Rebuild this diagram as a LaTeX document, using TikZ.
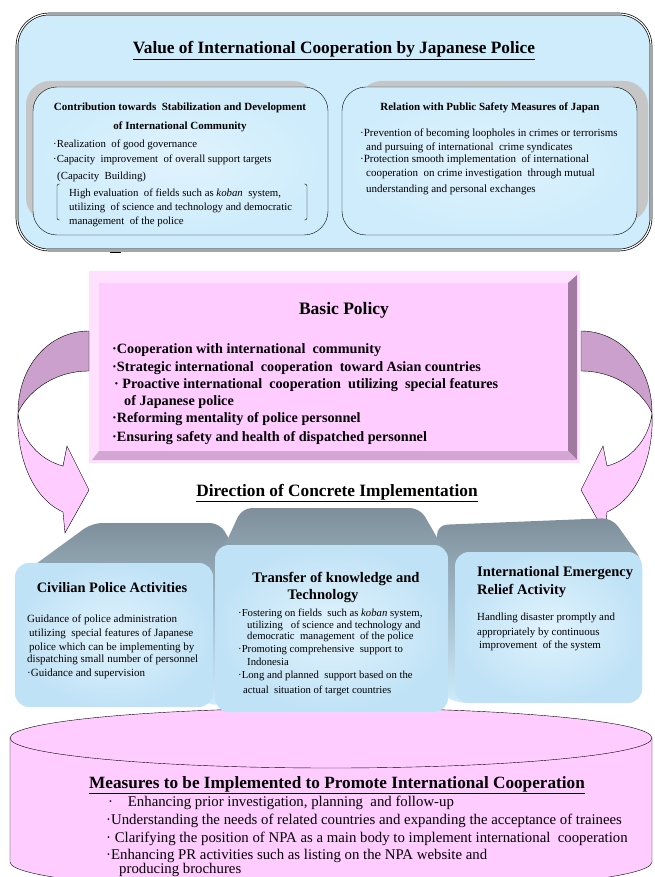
\documentclass[tikz,border=0pt]{standalone}
\usepackage{fontspec}
\setmainfont{Liberation Serif}
\usetikzlibrary{positioning,calc}

\definecolor{skyfill}{RGB}{206,236,252}
\definecolor{skyin}{RGB}{224,243,253}
\definecolor{skyout}{RGB}{192,226,246}
\definecolor{slate}{RGB}{126,143,155}
\definecolor{pinkfill}{RGB}{255,204,255}
\definecolor{pinklite}{RGB}{255,224,255}
\definecolor{pinkdark}{RGB}{204,160,204}
\definecolor{pinkedge}{RGB}{160,122,160}
\definecolor{pinkbase}{RGB}{212,166,212}

\begin{document}
\begin{tikzpicture}[x=1pt,y=-1pt,
	hd/.style={anchor=base,inner sep=0pt,font=\bfseries\fontsize{11}{13}\selectfont},
	txt/.style={anchor=base west,inner sep=0pt,font=\fontsize{10.8}{13}\selectfont},
	face/.style={rounded corners=14pt,inner color=skyin,outer color=skyout},
	body/.style={rounded corners=10pt,top color=slate,bottom color=skyfill},
	panel/.style={draw,rounded corners=24pt,inner color=skyin,outer color=skyfill}]
	\useasboundingbox (0,0) rectangle (654,877);

	% value of cooperation
	\draw[double=white,double distance=1.2pt,line width=0.7pt,fill=skyfill,rounded corners=32pt] (17,14) rectangle (651,250);
	\fill[gray!45,rounded corners=24pt] (26,81) rectangle (317,222) (358,81) rectangle (648,222);
	\path[panel] (33,87) rectangle (328,235);
	\path[panel] (342,87) rectangle (637,235);
	\node[hd,font=\bfseries\fontsize{17.3}{20}\selectfont] (value) at (334,54) {\underline{Value of International Cooperation by Japanese Police}};
	\node[hd] (contrib1) at (180,111) {Contribution towards\ \ Stabilization and Development};
	\node[hd] (contrib2) at (180,130) {of International Community};
	\foreach \x/\y/\t [count=\i] in {53/148/{·Realization\ \ of good governance},
		53/163/{·Capacity\ \ improvement\ \ of overall support targets},
		57/180/{(Capacity\ \ Building)},
		69/197/{High evaluation\ \ of fields such as \textit{koban}\ \ system,},
		69/211/{utilizing\ \ of science and technology and democratic},
		69/225/{management\ \ of the police}}
		\node[txt] (contrib\i) at (\x,\y) {\t};
	\draw[rounded corners=2pt] (60,184) -- (57,184) -- (57,220) -- (60,220);
	\draw[rounded corners=2pt] (304,184) -- (307,184) -- (307,220) -- (304,220);
	\draw (110,252) -- (121,252);
	\node[hd] (relation) at (490,111) {Relation with Public Safety Measures of Japan};
	\foreach \x/\y/\t [count=\i] in {360/137/{·Prevention of becoming loopholes in crimes or terrorisms},
		366/151/{and pursuing of international\ \ crime syndicates},
		360/163/{·Protection smooth implementation\ \ of international},
		366/177/{cooperation\ \ on crime investigation\ \ through mutual},
		366/193/{understanding and personal exchanges}}
		\node[txt,font=\fontsize{11}{13}\selectfont] (relation\i) at (\x,\y) {\t};

	% basic policy
	\node[fill=pinklite,minimum width=491pt,minimum height=192pt,inner sep=0pt] (policy) at (334.5,367) {};
	\fill[pinkedge] (568,283) -- (577,275) -- (577,460) -- (568,451) -- cycle;
	\fill[pinkbase] (99,451) -- (568,451) -- (577,460) -- (92,460) -- cycle;
	\fill[pinkfill] (99,283) rectangle (568,451);
	\node[hd,font=\bfseries\fontsize{17.5}{20}\selectfont] (basic) at (344,314) {Basic Policy};
	\foreach \x/\y/\t [count=\i] in {112/353/{·Cooperation with international\ \ community},
		112/371/{·Strategic international\ \ cooperation\ \ toward Asian countries},
		114/388/{·\ Proactive international\ \ cooperation\ \ utilizing\ \ special features},
		124/405/{of Japanese police},
		112/422/{·Reforming mentality of police personnel},
		112/441/{·Ensuring safety and health of dispatched personnel}}
		\node[txt,font=\bfseries\fontsize{14.2}{16}\selectfont] (basic\i) at (\x,\y) {\t};
	\foreach \s/\o in {1/0,-1/670}{
		\begin{scope}[shift={(\o,0)},xscale=\s]
			\draw[fill=pinkdark] (89,331) .. controls (50,331) and (18,365) .. (18,413) .. controls (25,396) and (50,371) .. (89,371) -- cycle;
			\draw[fill=pinkfill] (18,413) .. controls (16,452) and (30,497) .. (63,512) -- (65,533) -- (89,490) -- (67,446) -- (63,466) .. controls (40,460) and (21,440) .. (18,413) -- cycle;
		\end{scope}
	}
	\node[hd,font=\bfseries\fontsize{17.3}{20}\selectfont] (direction) at (337,496) {\underline{Direction of Concrete Implementation}};

	% measures (cylinder)
	\draw[fill=pinkfill] (10,738) -- (10,862) .. controls (10,878.6) and (153.7,892) .. (331,892) .. controls (508.3,892) and (652,878.6) .. (652,862) -- (652,738) -- cycle;
	\draw[fill=pinkfill] (331,738) ellipse [x radius=321pt,y radius=30pt];
	\node[hd,font=\bfseries\fontsize{17.2}{20}\selectfont] (measures) at (337,788) {\underline{Measures to be Implemented to Promote International Cooperation}};
	\foreach \x/\y/\t [count=\i] in {108/806/{·\ \ \ \ Enhancing prior investigation, planning\ \ and follow-up},
		106/824/{·Understanding the needs of related countries and expanding the acceptance of trainees},
		106/842/{·\ Clarifying the position of NPA as a main body to implement international\ \ cooperation},
		106/859/{·Enhancing PR activities such as listing on the NPA website and},
		119/873/{producing brochures}}
		\node[txt,font=\fontsize{14.8}{17}\selectfont] (measures\i) at (\x,\y) {\t};

	% direction boxes
	\path[body] (14,580) -- (92,523) -- (220,523) -- (234,548) -- (234,700) -- (213,707) -- cycle;
	\path[face] (15,563) rectangle (213,707);
	\path[body] (437,525) -- (612,518) -- (642,560) -- (642,700) -- (455,703) -- (437,690) -- cycle;
	\path[face] (455,552) rectangle (642,703);
	\path[body] (218,560) -- (242,508) -- (420,508) -- (450,560) -- (448,705) -- (218,705) -- cycle;
	\path[face] (215,545) rectangle (448,712);

	\node[hd,font=\bfseries\fontsize{14.4}{17}\selectfont] (civil) at (112,592) {Civilian Police Activities};
	\foreach \x/\y/\t [count=\i] in {27/622/{Guidance of police administration},
		29/636/{utilizing\ \ special features of Japanese},
		29/650/{police which can be implementing by},
		27/662/{dispatching small number of personnel},
		27/676/{·Guidance and supervision}}
		\node[txt,font=\fontsize{11}{13}\selectfont] (civil\i) at (\x,\y) {\t};
	\node[hd,font=\bfseries\fontsize{14.6}{17}\selectfont] (transfer) at (336,582) {Transfer of knowledge and};
	\node[hd,font=\bfseries\fontsize{14.6}{17}\selectfont] (transfer0) at (323,599) {Technology};
	\foreach \x/\y/\t [count=\i] in {238/616/{·Fostering on fields\ \ such as \textit{koban} system,},
		247/628/{utilizing\ \ \ of science and technology and},
		247/639/{democratic\ \ management\ \ of the police},
		238/652/{·Promoting comprehensive\ \ support to},
		247/665/{Indonesia},
		238/678/{·Long and planned\ \ support based on the},
		243/693/{actual\ \ situation of target countries}}
		\node[txt,font=\fontsize{10.7}{12}\selectfont] (transfer\i) at (\x,\y) {\t};
	\node[txt,font=\bfseries\fontsize{14.5}{17}\selectfont] (relief) at (477,576) {International Emergency};
	\node[txt,font=\bfseries\fontsize{14.5}{17}\selectfont] (relief0) at (477,594) {Relief Activity};
	\foreach \x/\y/\t [count=\i] in {477/620/{Handling disaster promptly and},
		477/635/{appropriately by continuous},
		479/648/{improvement\ \ of the system}}
		\node[txt,font=\fontsize{10.9}{13}\selectfont] (relief\i) at (\x,\y) {\t};
\end{tikzpicture}
\end{document}
